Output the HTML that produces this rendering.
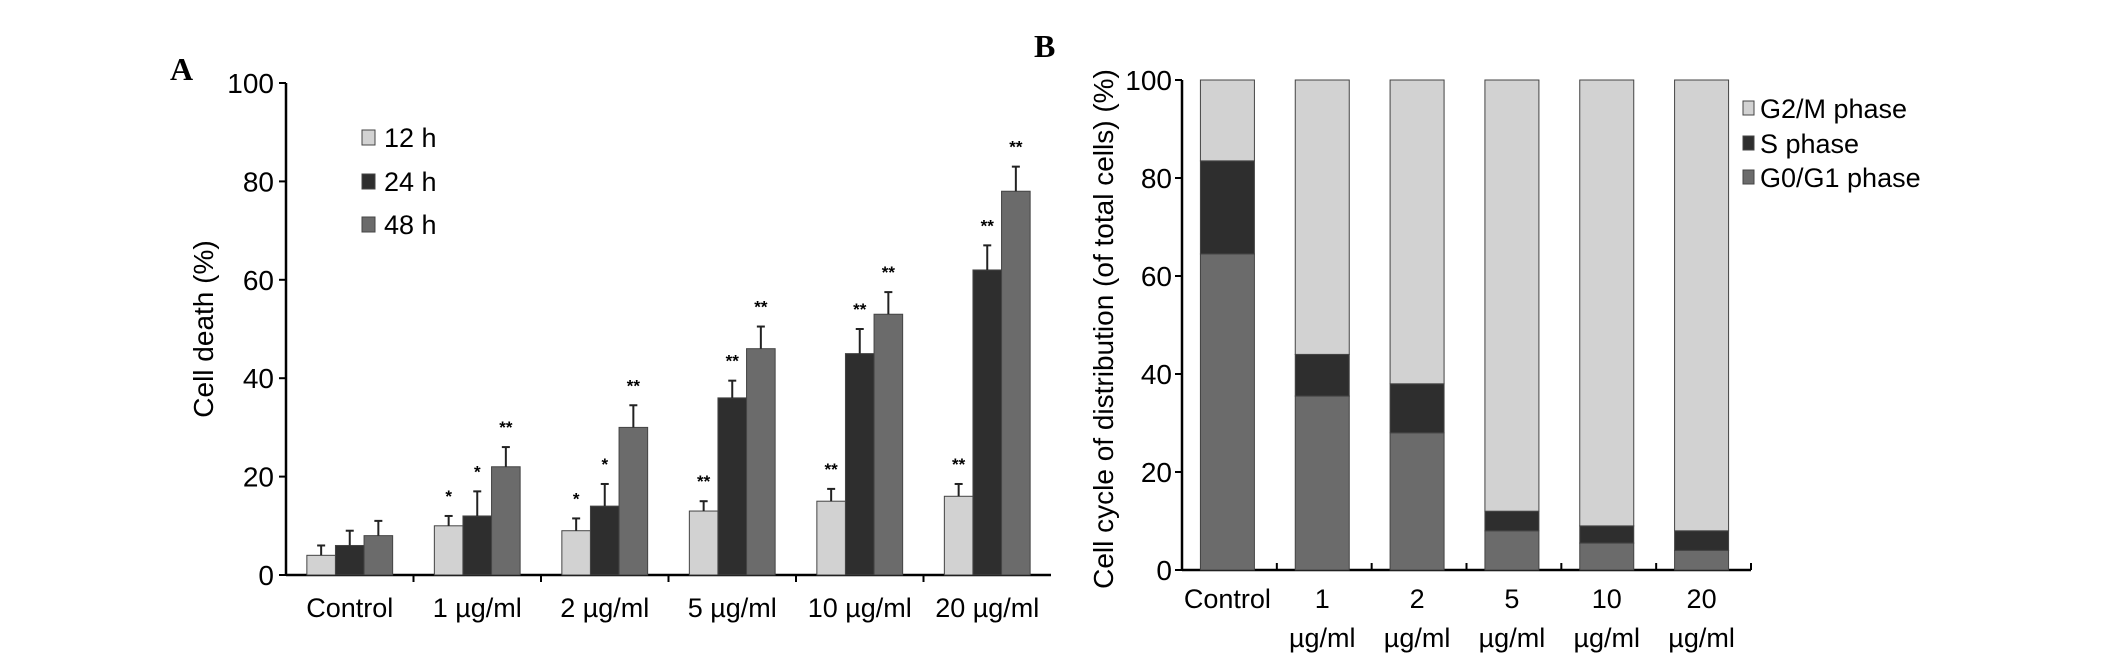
<!DOCTYPE html>
<html><head><meta charset="utf-8">
<style>
html,body{margin:0;padding:0;background:#fff;}
svg{display:block;font-family:"Liberation Sans",Arial,sans-serif;}
</style></head>
<body>
<svg id="fig" width="2126" height="659" viewBox="0 0 2126 659" xmlns="http://www.w3.org/2000/svg">
<rect width="2126" height="659" fill="#fff"/>
<text x="170" y="80" font-family="Liberation Serif,serif" font-weight="bold" font-size="32">A</text>
<text x="1034" y="57" font-family="Liberation Serif,serif" font-weight="bold" font-size="32">B</text>
<g id="chartA"></g>
<g id="chartB"></g>
</svg>
<script>
const categoriesA = ["Control","1 \u00b5g/ml","2 \u00b5g/ml","5 \u00b5g/ml","10 \u00b5g/ml","20 \u00b5g/ml"];
const seriesNamesA = ["12 h","24 h","48 h"];
const values12h = [4,10,9,13,15,16];
const values24h = [6,12,14,36,45,62];
const values48h = [8,22,30,46,53,78];
const err12h = [2,2,2.5,2,2.5,2.5];
const err24h = [3,5,4.5,3.5,5,5];
const err48h = [3,4,4.5,4.5,4.5,5];
const stars12h = ["","*","*","**","**","**"];
const stars24h = ["","*","*","**","**","**"];
const stars48h = ["","**","**","**","**","**"];
const ticksA = [0,20,40,60,80,100];

const categoriesB = [["Control",""],["1","\u00b5g/ml"],["2","\u00b5g/ml"],["5","\u00b5g/ml"],["10","\u00b5g/ml"],["20","\u00b5g/ml"]];
const g0g1 = [64.5,35.5,28,8,5.5,4];
const sPhase = [19,8.5,10,4,3.5,4];
const g2m = [16.5,56,62,88,91,92];
const seriesNamesB = ["G2/M phase","S phase","G0/G1 phase"];
const ticksB = [0,20,40,60,80,100];

const NS="http://www.w3.org/2000/svg";
function mk(parent,tag,attrs,text){const e=document.createElementNS(NS,tag);for(const k in attrs)e.setAttribute(k,attrs[k]);if(text!==undefined)e.textContent=text;parent.appendChild(e);return e;}
const LIGHT="#d2d2d2",DARK="#2e2e2e",MID="#6b6b6b",EDGE="#444";

// ---- Chart A ----
(function(){
const g=document.getElementById('chartA');
const x0=286,x1=1051,yTop=83,yBot=575;
const yA=v=>yBot-(v/100)*(yBot-yTop);
const gw=(x1-x0)/categoriesA.length, bw=28.6;
const vals=[values12h,values24h,values48h],errs=[err12h,err24h,err48h],stars=[stars12h,stars24h,stars48h],cols=[LIGHT,DARK,MID];
const ax=mk(g,'line',{x1:x0,y1:yTop,x2:x0,y2:yBot,stroke:'#000','stroke-width':2.5});

const bx=mk(g,'line',{x1:x0,y1:yBot,x2:x1,y2:yBot,stroke:'#000','stroke-width':2.5});

ticksA.forEach(t=>{
 mk(g,'line',{x1:x0-7,y1:yA(t),x2:x0,y2:yA(t),stroke:'#000','stroke-width':2});
 const tl=mk(g,'text',{x:x0-12,y:yA(t)+10,'text-anchor':'end','font-size':28},t);
 
});
for(let i=1;i<categoriesA.length;i++) mk(g,'line',{x1:x0+gw*i,y1:yBot,x2:x0+gw*i,y2:yBot+7,stroke:'#000','stroke-width':2});
categoriesA.forEach((c,i)=>{
 const gx=x0+gw*i+(gw-3*bw)/2;
 vals.forEach((arr,s)=>{
  const bx0=gx+s*bw,v=arr[i],top=yA(v),etop=yA(v+errs[s][i]),cx=bx0+bw/2;
  const r=mk(g,'rect',{x:bx0,y:top,width:bw,height:yBot-top,fill:cols[s],stroke:EDGE,'stroke-width':1});
  
  
  mk(g,'line',{x1:cx,y1:top,x2:cx,y2:etop,stroke:'#222','stroke-width':2});
  mk(g,'line',{x1:cx-4,y1:etop,x2:cx+4,y2:etop,stroke:'#222','stroke-width':2});
  if(stars[s][i]){const st=mk(g,'text',{x:cx,y:etop-14,'text-anchor':'middle','font-size':17,'font-weight':'bold'},stars[s][i]);
   }
 });
 const lb=mk(g,'text',{x:x0+gw*(i+0.5),y:617,'text-anchor':'middle','font-size':27},c);
 
});
const yt=mk(g,'text',{transform:'translate(213,329) rotate(-90)','text-anchor':'middle','font-size':28},'Cell death (%)');

const ly=[137,181,224];
seriesNamesA.forEach((n,s)=>{
 const lg=mk(g,'g',{});
 
 mk(lg,'rect',{x:362,y:ly[s]-7,width:13,height:15,fill:cols[s],stroke:EDGE,'stroke-width':1});
 mk(lg,'text',{x:384,y:ly[s]+10,'font-size':27},n);
});
})();

// ---- Chart B ----
(function(){
const g=document.getElementById('chartB');
const x0=1182,x1=1751,yTop=80,yBot=570;
const yB=v=>yBot-(v/100)*(yBot-yTop);
const gw=(x1-x0)/categoriesB.length,bw=54;
mk(g,'line',{x1:x0,y1:yTop,x2:x0,y2:yBot,stroke:'#000','stroke-width':2.5});
mk(g,'line',{x1:x0,y1:yBot,x2:x1,y2:yBot,stroke:'#000','stroke-width':2.5});
ticksB.forEach(t=>{
 mk(g,'line',{x1:x0-7,y1:yB(t),x2:x0,y2:yB(t),stroke:'#000','stroke-width':2});
 const tl=mk(g,'text',{x:x0-10,y:yB(t)+10,'text-anchor':'end','font-size':28},t);
 
});
for(let i=1;i<=categoriesB.length;i++) mk(g,'line',{x1:x0+gw*i,y1:yBot,x2:x0+gw*i,y2:yBot-7,stroke:'#000','stroke-width':2});
const stacks=[g0g1,sPhase,g2m],cols=[MID,DARK,LIGHT],names=['g0g1','s','g2m'];
categoriesB.forEach((c,i)=>{
 const bx0=x0+gw*i+(gw-bw)/2-2;let acc=0;
 stacks.forEach((arr,s)=>{
  const lo=acc,hi=acc+arr[i];acc=hi;
  const r=mk(g,'rect',{x:bx0,y:yB(hi),width:bw,height:yB(lo)-yB(hi),fill:cols[s],stroke:EDGE,'stroke-width':1});
  
  
 });
 const cx=bx0+bw/2;
 const l1=mk(g,'text',{x:cx,y:608,'text-anchor':'middle','font-size':27},c[0]);
 
 if(c[1]){const l2=mk(g,'text',{x:cx,y:647,'text-anchor':'middle','font-size':27},c[1]);
  }
});
const yt=mk(g,'text',{transform:'translate(1113,329) rotate(-90)','text-anchor':'middle','font-size':28},'Cell cycle of distribution (of total cells) (%)');

const ly=[108,143,177],lc=[LIGHT,DARK,MID];
seriesNamesB.forEach((n,s)=>{
 const lg=mk(g,'g',{});
 
 mk(lg,'rect',{x:1743,y:ly[s]-7,width:11,height:14,fill:lc[s],stroke:EDGE,'stroke-width':1});
 mk(lg,'text',{x:1760,y:ly[s]+10,'font-size':27},n);
});
})();
</script>
</body></html>
